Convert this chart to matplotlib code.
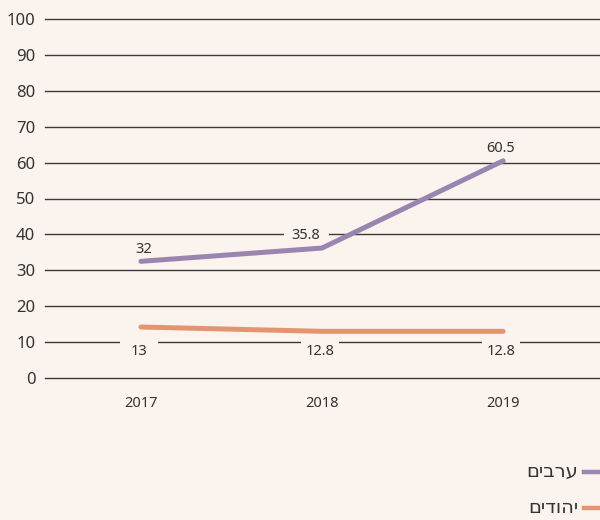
import matplotlib
matplotlib.use("Agg")
import matplotlib.pyplot as plt
from matplotlib.lines import Line2D

plt.rcParams['font.family'] = ['Noto Sans', 'DejaVu Sans']

years = ['2017', '2018', '2019']
arabs = [32.5, 36.2, 60.5]
jews = [14.2, 13.0, 13.0]
arabs_labels = ['32', '35.8', '60.5']
jews_labels = ['13', '12.8', '12.8']
series_names = ['ערבים', 'יהודים']

bg = '#fbf3ee'
purple = '#9a84b0'
orange = '#e39572'
dark = '#333333'

fig = plt.figure(figsize=(6, 5.2), dpi=100, facecolor=bg)
ax = fig.add_axes([45 / 600, 1 - 378 / 520, 1 - 45 / 600, (378 - 19) / 520])
ax.set_facecolor(bg)

x = range(len(years))
ax.plot(x, arabs, color=purple, lw=3.6, solid_capstyle='round', zorder=4)
ax.plot(x, jews, color=orange, lw=3.6, solid_capstyle='round', zorder=4)

ax.set_ylim(0, 100)
ax.set_xlim(-0.53, 2.535)
ax.set_yticks(range(0, 101, 10))
ax.set_xticks(list(x))
ax.set_xticklabels(years)
ax.grid(axis='y', color='#3a3a3a', lw=1.0, zorder=1)
ax.set_axisbelow(True)
for gl in ax.get_ygridlines():
    gl.set_clip_on(False)
for s in ax.spines.values():
    s.set_visible(False)
ax.tick_params(axis='y', length=0, pad=7, labelsize=12, colors=dark)
ax.tick_params(axis='x', length=0, pad=13, labelsize=10.5, colors=dark)

# data labels
boxed = []
offsets_a = [(3, 12), (-16, 13), (-3, 12)]
for i, (v, lab) in enumerate(zip(arabs, arabs_labels)):
    t = ax.annotate(lab, (i, v), xytext=offsets_a[i], textcoords='offset pixels',
                    ha='center', va='center', fontsize=10.5, color=dark, zorder=3)
    if i == 1:
        boxed.append((t, 45))
for i, (v, lab) in enumerate(zip(jews, jews_labels)):
    t = ax.annotate(lab, (i, 10), xytext=(-2, -9), textcoords='offset pixels',
                    ha='center', va='center', fontsize=10.5, color=dark, zorder=3)
    boxed.append((t, 38))

fig.canvas.draw()
r = fig.canvas.get_renderer()
for t, wpx in boxed:
    w = t.get_window_extent(r).width
    fs_px = 10.5 * 100 / 72
    t.set_bbox(dict(boxstyle='square,pad=%.2f' % max((wpx - w) / 2 / fs_px, 0.1),
                    fc=bg, ec='none'))

# legend (bottom right)
legend_cols = [purple, orange]
for k, (name, col) in enumerate(zip(series_names, legend_cols)):
    yf = 1 - (472 + 36 * k) / 520
    fig.add_artist(Line2D([584 / 600, 1.0], [yf, yf], color=col, lw=3.2,
                          transform=fig.transFigure))
    fig.text(578 / 600, yf, name[::-1], ha='right', va='center',
             fontsize=14, color=dark)

fig.savefig('out.png', dpi=100, facecolor=bg)
